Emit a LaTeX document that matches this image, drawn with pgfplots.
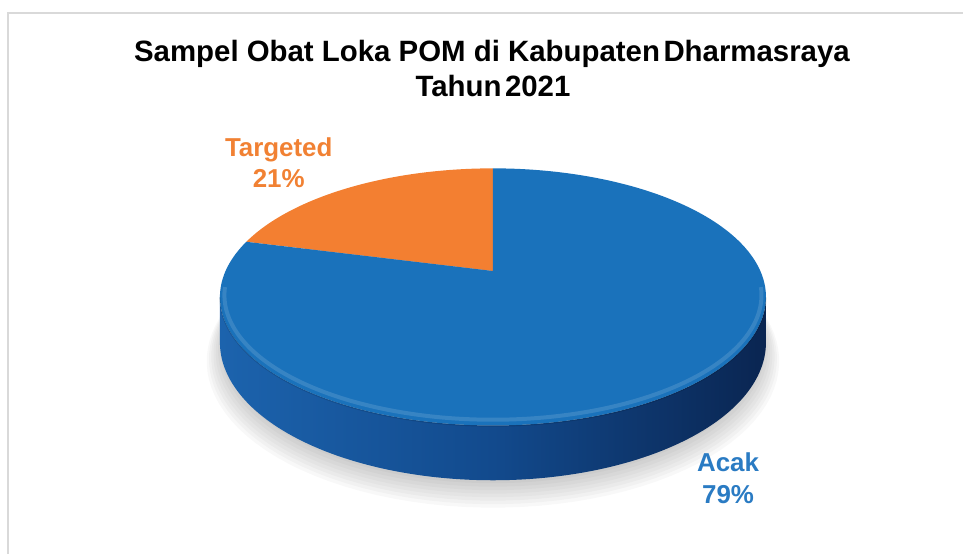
\documentclass[border=0pt]{standalone}
\usepackage{pgfplots}
\pgfplotsset{compat=1.18}
\usepackage{pgfplotstable}
\usepackage{fontspec}
\setmainfont{Liberation Sans}
\definecolor{blueC}{HTML}{1A72BB}
\definecolor{orangeC}{HTML}{F37F31}
\definecolor{blueT}{HTML}{2A7BC3}
\definecolor{orangeT}{HTML}{F18133}
\definecolor{sideL}{HTML}{1C63AD}
\definecolor{sideM}{HTML}{124A8D}
\definecolor{sideR}{HTML}{0A2551}
\definecolor{frameC}{HTML}{D9D9D9}

\pgfplotstableread{
label value
Targeted 21
Acak 79
}\piedata

\begin{document}
\pgfplotstablegetelem{0}{value}\of\piedata
\let\vT\pgfplotsretval
\pgfmathsetmacro\angT{3.6*\vT}
\begin{tikzpicture}
\begin{axis}[
  width=964bp, height=556bp, scale only axis,
  xmin=0, xmax=964, ymin=0, ymax=556, y dir=reverse,
  hide axis, clip=false,
  declare function={
    W(\t)=1+0.2016*cos(\t);
    PX(\t)=492-268.4*sin(\t)/W(\t);
    PY(\t)=272-123.8*cos(\t)/W(\t);
    TH(\s)=(\s<=1)*(101.63+\s*156.74)+(\s>1)*(258.37-(\s-1)*156.74);
  },
]
% page area
\path (axis cs:0,0) rectangle (axis cs:964,556);
% frame
\draw[frameC, line width=1.6bp] (axis cs:5,556) -- (axis cs:5,13) -- (axis cs:964,13);

% soft shadow
\pgfplotsinvokeforeach{0,1,2,3,4,5,6,7}{
  \addplot[fill=black, draw=none, fill opacity=0.028, domain=0:360, samples=120]
    ({492-(266+2.2*#1)*sin(x)/W(x)},{272+(-(123.8+1.2*#1)*cos(x)+43.9)/W(x)+3+2*#1}) -- cycle;
}

% side of the disc
\addplot[draw=none, left color=sideL, right color=sideR, middle color=sideM, domain=0:2, samples=241]
  ({PX(TH(x))},{PY(TH(x))+(x>1)*43.9/W(TH(x))}) -- cycle;

% top face slices
\addplot[fill=orangeC, draw=none, domain=0:\angT, samples=80]
  ({PX(x)},{PY(x)}) -- (axis cs:492,272) -- cycle;
\addplot[fill=blueC, draw=none, domain=\angT:360, samples=240]
  ({PX(x)},{PY(x)}) -- (axis cs:492,272) -- cycle;

% bevel highlight
\addplot[draw=white, draw opacity=0.13, line width=4bp, domain=98:262, samples=120]
  ({492-264*sin(x)/W(x)},{272-120*cos(x)/W(x)-1});
\addplot[draw=black, draw opacity=0.12, line width=1.2bp, domain=101.6:258.4, samples=120]
  ({PX(x)},{PY(x)+0.6});

% title
\node[anchor=base, font=\bfseries\fontsize{29.5bp}{34bp}\selectfont] at (axis cs:491,62)
  {Sampel Obat Loka POM di Kabupaten\hspace{0.12em}Dharmasraya};
\node[anchor=base, font=\bfseries\fontsize{29.5bp}{34bp}\selectfont] at (axis cs:492,97)
  {Tahun\hspace{0.12em}2021};

% labels
\node[anchor=base, text=orangeT, font=\bfseries\fontsize{26bp}{30bp}\selectfont] at (axis cs:277,157) {Targeted};
\node[anchor=base, text=orangeT, font=\bfseries\fontsize{26bp}{30bp}\selectfont] at (axis cs:277,188) {21\%};
\node[anchor=base, text=blueT, font=\bfseries\fontsize{26bp}{30bp}\selectfont] at (axis cs:728,473) {Acak};
\node[anchor=base, text=blueT, font=\bfseries\fontsize{26bp}{30bp}\selectfont] at (axis cs:728,505) {79\%};
\end{axis}
\end{tikzpicture}
\end{document}
